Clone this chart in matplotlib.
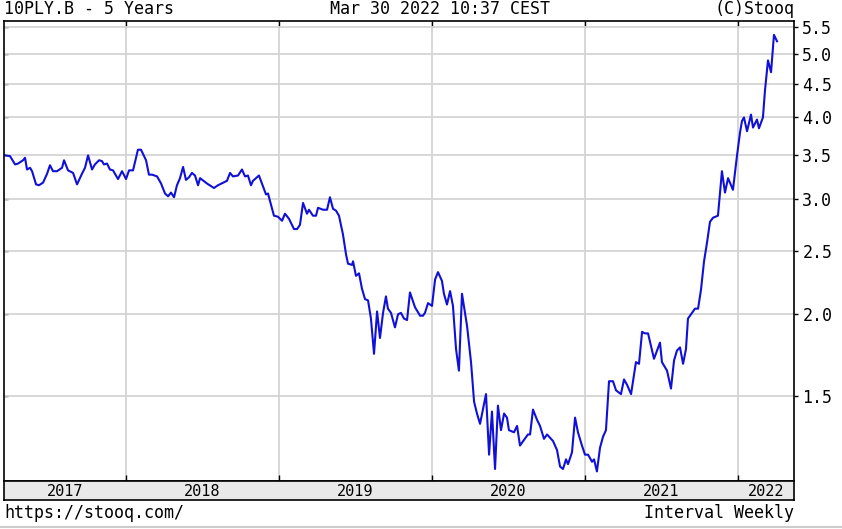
# stooq 10PLY.B weekly chart, 5 years, log scale
import matplotlib.pyplot as plt
from matplotlib.lines import Line2D

# decimal year of each traced vertex
t = [2017.209, 2017.242, 2017.275, 2017.294, 2017.327, 2017.340, 2017.353, 2017.373, 2017.386, 2017.412,
     2017.431, 2017.458, 2017.484, 2017.503, 2017.523, 2017.549, 2017.582, 2017.595, 2017.621, 2017.654,
     2017.680, 2017.712, 2017.732, 2017.752, 2017.778, 2017.797, 2017.824, 2017.843, 2017.856, 2017.876,
     2017.895, 2017.915, 2017.948, 2017.974, 2018.000, 2018.020, 2018.046, 2018.078, 2018.098, 2018.131,
     2018.150, 2018.170, 2018.203, 2018.229, 2018.255, 2018.275, 2018.294, 2018.314, 2018.333, 2018.353,
     2018.373, 2018.392, 2018.412, 2018.431, 2018.451, 2018.471, 2018.484, 2018.529, 2018.575, 2018.601,
     2018.647, 2018.660, 2018.680, 2018.699, 2018.732, 2018.758, 2018.778, 2018.797, 2018.817, 2018.830,
     2018.869, 2018.895, 2018.915, 2018.928, 2018.967, 2018.993, 2019.020, 2019.039, 2019.065, 2019.098,
     2019.118, 2019.137, 2019.157, 2019.183, 2019.196, 2019.222, 2019.242, 2019.255, 2019.288, 2019.314,
     2019.333, 2019.353, 2019.373, 2019.392, 2019.418, 2019.438, 2019.451, 2019.477, 2019.484, 2019.503,
     2019.523, 2019.542, 2019.562, 2019.582, 2019.601, 2019.621, 2019.641, 2019.660, 2019.680, 2019.699,
     2019.712, 2019.732, 2019.758, 2019.778, 2019.797, 2019.817, 2019.837, 2019.856, 2019.889, 2019.922,
     2019.941, 2019.954, 2019.974, 2020.000, 2020.020, 2020.039, 2020.065, 2020.078, 2020.098, 2020.118,
     2020.137, 2020.157, 2020.176, 2020.196, 2020.229, 2020.255, 2020.275, 2020.294, 2020.314, 2020.333,
     2020.353, 2020.373, 2020.392, 2020.412, 2020.431, 2020.451, 2020.471, 2020.490, 2020.503, 2020.536,
     2020.556, 2020.575, 2020.627, 2020.641, 2020.660, 2020.686, 2020.706, 2020.732, 2020.752, 2020.791,
     2020.817, 2020.837, 2020.856, 2020.876, 2020.889, 2020.915, 2020.935, 2020.954, 2020.980, 2021.000,
     2021.020, 2021.046, 2021.059, 2021.078, 2021.098, 2021.118, 2021.137, 2021.157, 2021.183, 2021.203,
     2021.235, 2021.255, 2021.275, 2021.301, 2021.333, 2021.353, 2021.373, 2021.392, 2021.412, 2021.451,
     2021.490, 2021.503, 2021.536, 2021.562, 2021.582, 2021.601, 2021.621, 2021.641, 2021.660, 2021.673,
     2021.719, 2021.739, 2021.758, 2021.778, 2021.797, 2021.817, 2021.837, 2021.869, 2021.895, 2021.915,
     2021.935, 2021.967, 2021.993, 2022.013, 2022.026, 2022.039, 2022.059, 2022.085, 2022.098, 2022.124,
     2022.137, 2022.163, 2022.176, 2022.196, 2022.216, 2022.235, 2022.255]

# yield, %
yld = [3.50, 3.49, 3.39, 3.40, 3.44, 3.47, 3.33, 3.35, 3.31, 3.16,
       3.15, 3.18, 3.28, 3.38, 3.31, 3.31, 3.35, 3.44, 3.32, 3.29,
       3.16, 3.28, 3.35, 3.50, 3.33, 3.39, 3.44, 3.43, 3.39, 3.40,
       3.33, 3.32, 3.22, 3.31, 3.22, 3.32, 3.32, 3.57, 3.57, 3.44,
       3.27, 3.27, 3.25, 3.17, 3.06, 3.03, 3.07, 3.02, 3.15, 3.23,
       3.36, 3.21, 3.24, 3.29, 3.26, 3.15, 3.23, 3.17, 3.12, 3.15,
       3.19, 3.20, 3.29, 3.25, 3.26, 3.33, 3.25, 3.26, 3.15, 3.20,
       3.26, 3.14, 3.05, 3.06, 2.83, 2.82, 2.78, 2.85, 2.80, 2.70,
       2.70, 2.74, 2.96, 2.85, 2.89, 2.83, 2.83, 2.91, 2.89, 2.89,
       3.02, 2.90, 2.88, 2.83, 2.65, 2.47, 2.39, 2.38, 2.41, 2.29,
       2.31, 2.19, 2.11, 2.10, 1.97, 1.74, 2.02, 1.84, 2.01, 2.13,
       2.04, 2.01, 1.91, 2.00, 2.01, 1.97, 1.96, 2.16, 2.05, 1.99,
       1.99, 2.01, 2.08, 2.06, 2.26, 2.32, 2.25, 2.15, 2.07, 2.17,
       2.06, 1.77, 1.64, 2.15, 1.92, 1.69, 1.47, 1.41, 1.36, 1.43,
       1.51, 1.22, 1.42, 1.16, 1.45, 1.33, 1.41, 1.39, 1.33, 1.32,
       1.35, 1.26, 1.31, 1.31, 1.43, 1.38, 1.35, 1.29, 1.31, 1.28,
       1.24, 1.17, 1.16, 1.20, 1.18, 1.23, 1.39, 1.32, 1.26, 1.22,
       1.22, 1.19, 1.20, 1.15, 1.25, 1.30, 1.33, 1.58, 1.58, 1.53,
       1.51, 1.59, 1.56, 1.51, 1.69, 1.68, 1.88, 1.87, 1.87, 1.71,
       1.81, 1.69, 1.64, 1.54, 1.70, 1.76, 1.78, 1.68, 1.77, 1.97,
       2.04, 2.04, 2.18, 2.41, 2.57, 2.77, 2.81, 2.83, 3.31, 3.07,
       3.23, 3.10, 3.49, 3.79, 3.95, 4.00, 3.81, 4.04, 3.86, 3.97,
       3.85, 4.00, 4.39, 4.89, 4.69, 5.35, 5.23]

y_ticks = [1.5, 2.0, 2.5, 3.0, 3.5, 4.0, 4.5, 5.0, 5.5]
years = [2017, 2018, 2019, 2020, 2021, 2022]

x_min, x_max = 2017.2026, 2022.366
y_min, y_max = 1.112, 5.617

mono = 'DejaVu Sans Mono'
W, H = 842, 529

fig = plt.figure(figsize=(W / 100, H / 100), dpi=100)
fig.patch.set_facecolor('white')

# main plot area
ax = fig.add_axes([4 / W, 1 - 481 / H, 790 / W, 460 / H])
ax.plot(t, yld, color='#1010d8', linewidth=1.5)
ax.set_yscale('log')
ax.set_xlim(x_min, x_max)
ax.set_ylim(y_min, y_max)
ax.set_yticks(y_ticks)
ax.set_yticklabels([f'{v:.1f}' for v in y_ticks], fontfamily=mono, fontsize=12)
ax.minorticks_off()
ax.set_xticks(years[1:])
ax.tick_params(axis='x', direction='in', length=4, top=True, bottom=True,
               labelbottom=False, color='black', width=1)
ax.tick_params(axis='y', direction='out', length=3, left=False, right=True,
               labelleft=False, labelright=True, pad=3, width=1)
ax.grid(True, color='#d4d4d4', linewidth=1.3)
ax.set_axisbelow(True)
for s in ax.spines.values():
    s.set_color('black')
    s.set_linewidth(1.2)

# small inward ticks on the left side
sec = ax.secondary_yaxis('left')
sec.set_yticks(y_ticks)
sec.minorticks_off()
sec.tick_params(direction='in', length=3, labelleft=False, width=1)
sec.spines['left'].set_visible(False)

# year band under the plot
band = fig.add_axes([4 / W, 1 - 500 / H, 790 / W, 19 / H])
band.set_facecolor('#e9e9e9')
band.set_xlim(x_min, x_max)
band.set_ylim(0, 1)
band.set_xticks([])
band.set_yticks([])
for s in band.spines.values():
    s.set_color('black')
    s.set_linewidth(1.2)
for yr in years:
    a = max(yr, x_min)
    b = min(yr + 1, x_max)
    band.text((a + b) / 2, 0.45, str(yr), ha='center', va='center',
              fontfamily=mono, fontsize=11)

# header and footer texts
fig.text(4 / W, 1 - 9 / H, '10PLY.B - 5 Years', ha='left', va='center',
         fontfamily=mono, fontsize=12)
fig.text(440 / W, 1 - 9 / H, 'Mar 30 2022 10:37 CEST', ha='center', va='center',
         fontfamily=mono, fontsize=12)
fig.text(794 / W, 1 - 9 / H, '(C)Stooq', ha='right', va='center',
         fontfamily=mono, fontsize=12)
fig.text(4 / W, 1 - 513 / H, 'https://stooq.com/', ha='left', va='center',
         fontfamily=mono, fontsize=12)
fig.text(794 / W, 1 - 513 / H, 'Interval Weekly', ha='right', va='center',
         fontfamily=mono, fontsize=12)

# thin gray line at the very bottom of the image
fig.add_artist(Line2D([0, 1], [1 - 527 / H] * 2, color='#cccccc', linewidth=1.5))

fig.savefig('out.png', dpi=100)
